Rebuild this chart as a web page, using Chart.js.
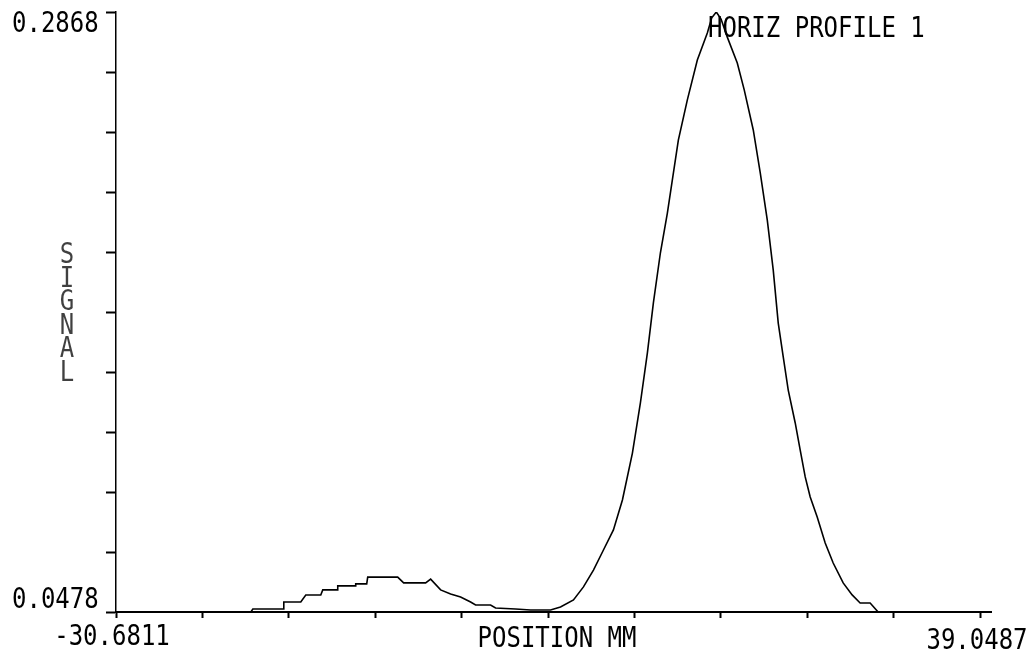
<!DOCTYPE html>
<html>
<head>
<meta charset="utf-8">
<script src="https://cdn.jsdelivr.net/npm/chart.js@4.4.1/dist/chart.umd.min.js"></script>
<style>
  html, body { margin: 0; padding: 0; background: #fff; }
  #profile { display: block; }
</style>
</head>
<body>
<canvas id="profile" width="1031" height="652"></canvas>
<script>
// horizontal beam profile
const positionMm = [
  -30.6811, -19.798, -19.637, -17.138, -17.138, -15.768, -15.365, -14.155, -13.994, -12.785,
  -12.785, -11.334, -11.334, -10.447, -10.367, -7.948, -7.465, -5.691, -5.288, -4.482,
  -3.676, -2.870, -2.063, -1.660, -0.451, -0.048, 1.564, 2.774, 4.386, 5.192,
  6.240, 7.046, 7.852, 8.658, 9.464, 10.190, 10.996, 11.641, 12.205, 12.689,
  13.253, 13.817, 14.220, 14.704, 15.430, 16.236, 17.042, 17.400, 17.767, 18.150,
  18.654, 19.460, 20.025, 20.750, 21.314, 21.879, 22.362, 22.766, 23.169, 23.572,
  24.136, 24.539, 24.942, 25.345, 25.910, 26.555, 27.200, 28.006, 28.731, 29.376,
  30.182, 30.827, 39.0487
];
const signal = [
  0.0478, 0.0478, 0.0490, 0.0490, 0.0518, 0.0518, 0.0546, 0.0546, 0.0566, 0.0566,
  0.0582, 0.0582, 0.0590, 0.0590, 0.0617, 0.0617, 0.0594, 0.0594, 0.0609, 0.0566,
  0.0550, 0.0538, 0.0518, 0.0506, 0.0506, 0.0494, 0.0490, 0.0486, 0.0486, 0.0498,
  0.0526, 0.0578, 0.0645, 0.0725, 0.0805, 0.0924, 0.1111, 0.1311, 0.1510, 0.1709,
  0.1908, 0.2067, 0.2199, 0.2358, 0.2518, 0.2677, 0.2784, 0.2845, 0.2868, 0.2840,
  0.2768, 0.2665, 0.2557, 0.2398, 0.2227, 0.2040, 0.1840, 0.1629, 0.1494, 0.1362,
  0.1231, 0.1123, 0.1016, 0.0936, 0.0856, 0.0753, 0.0673, 0.0594, 0.0546, 0.0514,
  0.0514, 0.0478, 0.0478
];

const xMin = -30.6811, xMax = 39.0487;
const yMin = 0.0478, yMax = 0.2868;
const divisions = 10;
const xTickLabels = ['-30.6811', '39.0487'];
const yTickLabels = ['0.0478', '0.2868'];
const xTitle = 'POSITION MM';
const yTitle = 'SIGNAL';
const plotTitle = 'HORIZ PROFILE 1';

const FONT = '24px "DejaVu Sans Mono", "Liberation Mono", monospace';

function evenTicks(scale) {
  const step = (scale.max - scale.min) / divisions;
  scale.ticks = [];
  for (let i = 0; i <= divisions; i++) scale.ticks.push({ value: scale.min + i * step });
}

// tall dot-matrix style lettering
function plotText(ctx, text, x, y, align) {
  ctx.save();
  ctx.font = FONT;
  ctx.fillStyle = '#000';
  ctx.textAlign = align || 'left';
  ctx.textBaseline = 'alphabetic';
  ctx.translate(x, y);
  ctx.scale(1, 1.15);
  ctx.fillText(text, 0, 0);
  ctx.restore();
}

const labelsPlugin = {
  id: 'plotterLabels',
  afterDraw(chart) {
    const { ctx, scales: { x, y } } = chart;
    const xl = x.getPixelForValue(xMin), xr = x.getPixelForValue(xMax);
    const yb = y.getPixelForValue(yMin), yt = y.getPixelForValue(yMax);

    // axis arrow past the last tick
    ctx.save();
    ctx.strokeStyle = '#000';
    ctx.lineWidth = 2;
    ctx.beginPath();
    ctx.moveTo(xr, yb);
    ctx.lineTo(xr + 12, yb);
    ctx.stroke();
    ctx.restore();

    plotText(ctx, yTickLabels[1], 12, yt + 20, 'left');
    plotText(ctx, yTickLabels[0], 12, yb - 4, 'left');
    plotText(ctx, xTickLabels[0], xl - 4, yb + 33, 'center');
    plotText(ctx, xTickLabels[1], xr - 3, yb + 37, 'center');
    plotText(ctx, xTitle, (xl + xr) / 2 + 9, yb + 35, 'center');
    plotText(ctx, plotTitle, 708, yt + 25, 'left');

    // stacked letters for the y title
    const midY = (yt + yb) / 2;
    ctx.save();
    ctx.globalAlpha = 0.75;
    for (let i = 0; i < yTitle.length; i++) {
      plotText(ctx, yTitle[i], 67, midY + 10 + (i - (yTitle.length - 1) / 2) * 23.5, 'center');
    }
    ctx.restore();
  }
};

const points = positionMm.map((p, i) => ({ x: p, y: signal[i] }));

new Chart(document.getElementById('profile'), {
  type: 'line',
  data: {
    datasets: [{
      data: points,
      borderColor: '#000',
      borderWidth: 1.6,
      pointRadius: 0,
      tension: 0,
      fill: false
    }]
  },
  options: {
    responsive: false,
    animation: false,
    events: [],
    layout: { padding: { left: 106, right: 51, top: 12, bottom: 34 } },
    plugins: { legend: { display: false }, tooltip: { enabled: false } },
    scales: {
      x: {
        type: 'linear',
        min: xMin,
        max: xMax,
        afterBuildTicks: evenTicks,
        ticks: { display: false },
        grid: { display: true, drawOnChartArea: false, drawTicks: true, tickLength: 6, tickWidth: 2, tickColor: '#000' },
        border: { display: true, color: '#000', width: 2 }
      },
      y: {
        type: 'linear',
        min: yMin,
        max: yMax,
        afterBuildTicks: evenTicks,
        ticks: { display: false },
        grid: { display: true, drawOnChartArea: false, drawTicks: true, tickLength: 10, tickWidth: 2, tickColor: '#000' },
        border: { display: true, color: '#000', width: 1.5 }
      }
    }
  },
  plugins: [labelsPlugin]
});
</script>
</body>
</html>
